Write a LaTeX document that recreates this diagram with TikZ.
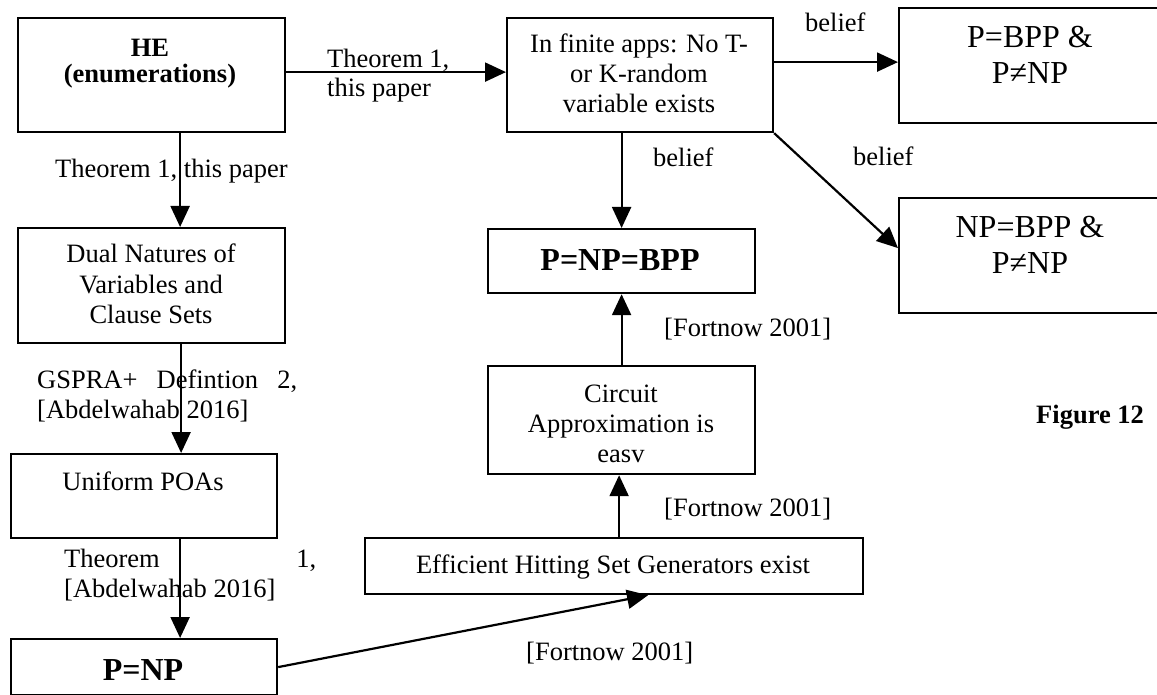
\documentclass[tikz,border=0pt]{standalone}
\usepackage{fontspec}
\setmainfont{Liberation Serif}
\usetikzlibrary{arrows.meta,calc}
\newcommand{\fsn}{\fontsize{26.5}{30}\selectfont}
\newcommand{\fsb}{\fontsize{32}{36}\selectfont}
\begin{document}
\begin{tikzpicture}[x=1pt,y=-1pt,
  box/.style={draw, line width=2.2pt, inner sep=0pt, anchor=north west},
  txt/.style={anchor=base, inner sep=0pt, font=\fsn},
  btxt/.style={anchor=base, inner sep=0pt, font=\fsn\bfseries},
  bigtxt/.style={anchor=base, inner sep=0pt, font=\fsb},
  bigbtxt/.style={anchor=base, inner sep=0pt, font=\fsb\bfseries},
  lbl/.style={anchor=base west, inner sep=0pt, font=\fsn},
  arr/.style={line width=2.2pt, -{Triangle[length=21pt,width=19pt]}}]
\useasboundingbox (0,0) rectangle (1157,695);
\clip (0,0) rectangle (1157,695);
% boxes
\node[box,minimum width=267pt,minimum height=114pt] (he) at (17,17) {};
\node[box,minimum width=266pt,minimum height=114pt] (inf) at (506,17) {};
\node[box,minimum width=264pt,minimum height=115pt] (pbpp) at (898,7) {};
\node[box,minimum width=264pt,minimum height=115pt] (npbpp) at (898,197) {};
\node[box,minimum width=267pt,minimum height=115pt] (dual) at (17,227) {};
\node[box,minimum width=267pt,minimum height=64pt] (pnpbpp) at (487,228) {};
\node[box,minimum width=267pt,minimum height=108pt] (circ) at (487,365) {};
\node[box,minimum width=266pt,minimum height=84pt] (unif) at (10,453) {};
\node[box,minimum width=498pt,minimum height=56pt] (eff) at (364,537) {};
\node[box,minimum width=266pt,minimum height=56pt] (pnp) at (10,638) {};
% box texts
\node[btxt] (he1) at (150,57) {HE};
\node[btxt] (he2) at (150,83) {(enumerations)};
\node[txt] (inf1) at (639,53) {In finite apps: No T-};
\node[txt] (inf2) at (639,83) {or K-random};
\node[txt] (inf3) at (639,113) {variable exists};
\node[bigtxt] (pb1) at (1030,48) {P=BPP \&};
\node[bigtxt] (pb2) at (1030,84) {P≠NP};
\node[bigtxt] (nb1) at (1030,238) {NP=BPP \&};
\node[bigtxt] (nb2) at (1030,273) {P≠NP};
\node[txt] (du1) at (151,263) {Dual Natures of};
\node[txt] (du2) at (151,293) {Variables and};
\node[txt] (du3) at (151,323) {Clause Sets};
\node[bigbtxt] (pnb1) at (620,270) {P=NP=BPP};
\node[txt] (ci1) at (621,402) {Circuit};
\node[txt] (ci2) at (621,432) {Approximation is};
\node[txt] (ci3) at (621,462) {easv};
\node[txt] (un1) at (143,490) {Uniform POAs};
\node[txt] (ef1) at (613,573) {Efficient Hitting Set Generators exist};
\node[bigbtxt] (pn1) at (143,680) {P=NP};
% connector labels
\node[lbl] (l1a) at (327,68) {Theorem 1,};
\node[lbl] (l1b) at (327,97) {this paper};
\node[lbl] (l2) at (55,178) {Theorem 1, this paper};
\node[lbl] (l3a) at (37,388) {\makebox[260pt][s]{GSPRA+ Defintion 2,}};
\node[lbl] (l3b) at (37,418) {[Abdelwahab 2016]};
\node[lbl] (l4a) at (64,567) {\makebox[252pt][s]{Theorem 1,}};
\node[lbl] (l4b) at (64,597) {[Abdelwahab 2016]};
\node[lbl] (b1) at (805,32) {belief};
\node[lbl] (b2) at (653,167) {belief};
\node[lbl] (b3) at (853,166) {belief};
\node[lbl] (f1) at (664,336) {[Fortnow 2001]};
\node[lbl] (f2) at (664,516) {[Fortnow 2001]};
\node[lbl] (f3) at (526,660) {[Fortnow 2001]};
\node[anchor=base west, inner sep=0pt, font=\fsn\bfseries] (fig) at (1036,423) {Figure 12};
% connectors
\draw[arr] ([yshift=3pt]he.east) -- ([yshift=3pt]inf.west);
\draw[arr] ([xshift=28.5pt]he.south) -- ([xshift=28.5pt]he.south |- dual.north);
\draw[arr] ([xshift=29.5pt]dual.south) -- ([xshift=29.5pt]dual.south |- unif.north);
\draw[arr] ([xshift=36pt]unif.south) -- ([xshift=36pt]unif.south |- pnp.north);
\draw[arr] (pnp.east) -- ([xshift=34pt]eff.south);
\draw[arr] ([xshift=5pt]eff.north) -- ([xshift=5pt]eff.north |- circ.south);
\draw[arr] (circ.north) -- (pnpbpp.south);
\draw[arr] (inf.south -| pnpbpp.north) -- (pnpbpp.north);
\draw[arr] ([yshift=13pt]inf.east) -- ([yshift=13pt]inf.east -| pbpp.west);
\draw[arr] (inf.south east) -- ([yshift=7.5pt]npbpp.west);
\end{tikzpicture}
\end{document}
